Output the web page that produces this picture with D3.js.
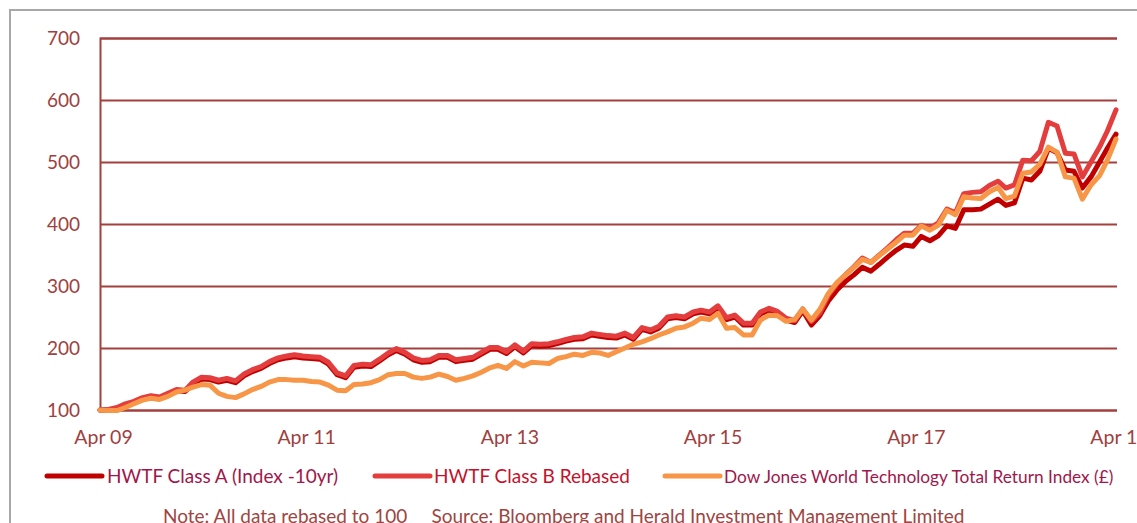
<!DOCTYPE html>
<html><head><meta charset="utf-8">
<script src="https://cdn.jsdelivr.net/npm/d3@7"></script>
<style>
body{margin:0;background:#fff;overflow:hidden}
svg{display:block}
text{font-family:Lato,"Open Sans",sans-serif}
</style>
</head><body>
<svg id="chart" width="1137" height="523"></svg>
<script>
// ---- data (monthly, Apr 2009 .. Apr 2019, rebased to 100) ----
const startMonth = "2009-04";
const classA = [
100,100,102,108,112,118,121,119,125,131,
130,142,150,149,145,148,144,155,162,167,
175,181,184,186,184,183,182,174,157,152,
169,171,170,179,189,196,190,181,177,178,
185,185,178,180,182,190,198,198,191,202,
192,204,203,204,207,211,214,215,221,219,
217,216,221,214,230,226,232,247,249,247,
255,258,255,265,246,250,237,237,255,261,
256,245,241,260,237,252,276,293,307,318,
330,324,335,347,358,366,364,380,373,381,
397,393,423,423,424,432,440,430,434,474,
471,485,522,515,487,485,458,476,500,522,
545];
const classB = [
100,101,104,110,114,120,123,121,127,133,
132,145,153,152,148,151,147,158,165,170,
178,184,187,189,187,186,185,177,160,155,
172,174,173,182,192,199,193,184,180,181,
188,188,181,183,185,193,201,201,194,205,
195,207,206,207,210,214,217,218,224,222,
220,219,224,217,233,229,235,250,252,250,
258,261,258,268,249,253,240,240,258,264,
259,248,244,263,243,256,285,303,318,331,
345,338,350,362,375,385,385,398,393,402,
424,418,449,451,452,462,469,458,463,503,
502,517,564,558,514,513,476,500,524,550,
584];
const djwt = [
100,99,99,104,110,116,119,117,122,129,
132,137,141,140,127,122,120,126,133,138,
145,149,149,148,148,146,145,140,132,131,
141,142,144,149,157,159,159,153,151,153,
158,154,148,151,155,161,168,172,167,178,
171,177,176,175,183,186,190,188,193,192,
188,194,200,206,210,215,221,226,232,234,
240,248,246,256,232,233,221,221,245,253,
252,243,246,263,245,262,288,305,318,330,
343,338,349,360,371,382,382,397,390,398,
422,415,444,442,441,452,459,441,445,482,
484,496,524,516,476,474,440,463,478,503,
537];
const yTicks = [100,200,300,400,500,600,700];
const xTickYears = [2009,2011,2013,2015,2017,2019];
const seriesNames = ["HWTF Class A (Index -10yr)","HWTF Class B Rebased","Dow Jones World Technology Total Return Index (£)"];
const seriesColors = ["#C00000","#E43D3D","#F79646"];
const footnote = "Note: All data rebased to 100     Source: Bloomberg and Herald Investment Management Limited";

// ---- chart ----
const svg = d3.select("#chart");
const parse = d3.timeParse("%Y-%m");
const t0 = parse(startMonth);
const dates = classB.map((_, i) => d3.timeMonth.offset(t0, i));

const x = d3.scaleTime().domain([dates[0], dates[dates.length - 1]]).range([100, 1116]);
const y = d3.scaleLinear().domain([100, 700]).range([410, 38]);
const gridCol = "#A3403E";
const labelCol = "#A0403E";

// outer frame
svg.append("rect").attr("x", 10).attr("y", 10).attr("width", 1300).attr("height", 700)
  .attr("fill", "none").attr("stroke", "#A8A8A8").attr("stroke-width", 2);

// gridlines + y labels
const yAxis = d3.axisLeft(y).tickValues(yTicks).tickSize(-1017).tickPadding(20).tickFormat(d3.format("d"));
const gy = svg.append("g").attr("transform", "translate(100,0)").call(yAxis);
gy.select(".domain").attr("stroke", gridCol).attr("stroke-width", 2);
gy.selectAll(".tick line").attr("stroke", gridCol).attr("stroke-width", 2);
gy.selectAll(".tick text").attr("fill", labelCol).attr("font-size", 19).attr("dy", "0.36em")
  .style("font-family", "Lato");

// x labels
const xAxis = d3.axisBottom(x).tickValues(xTickYears.map(yr => new Date(yr, 3, 1)))
  .tickSize(0).tickPadding(0).tickFormat(d3.timeFormat("%b %y"));
const gx = svg.append("g").call(xAxis);
gx.attr("transform", "translate(3,444)");
gx.select(".domain").remove();
gx.selectAll(".tick text").attr("fill", labelCol).attr("font-size", 19.5).attr("dy", 0)
  .attr("y", 0).style("font-family", "Lato");

// lines
const line = d3.line().x((d, i) => x(dates[i])).y(d => y(d)).curve(d3.curveLinear);
[classA, classB, djwt].forEach((s, k) => {
  svg.append("path").datum(s).attr("d", line).attr("fill", "none")
    .attr("stroke", seriesColors[k]).attr("stroke-width", 5)
    .attr("stroke-linejoin", "round").attr("stroke-linecap", "round");
});

// legend
const legend = [
  {x1: 47, x2: 102, tx: 107, size: 19, col: "#A0174A"},
  {x1: 375, x2: 430, tx: 434, size: 19, col: "#C4122A"},
  {x1: 665, x2: 720, tx: 724, size: 17.3, col: "#A0174A"}
];
legend.forEach((l, k) => {
  svg.append("line").attr("x1", l.x1).attr("x2", l.x2).attr("y1", 476).attr("y2", 476)
    .attr("stroke", seriesColors[k]).attr("stroke-width", 5).attr("stroke-linecap", "round");
  svg.append("text").attr("x", l.tx).attr("y", 483).attr("fill", l.col)
    .attr("font-size", l.size).text(seriesNames[k]);
});

svg.append("text").attr("x", 163).attr("y", 523).attr("fill", "#A0443F")
  .attr("font-size", 19).attr("xml:space", "preserve").style("white-space", "pre").text(footnote);
</script>
</body></html>
